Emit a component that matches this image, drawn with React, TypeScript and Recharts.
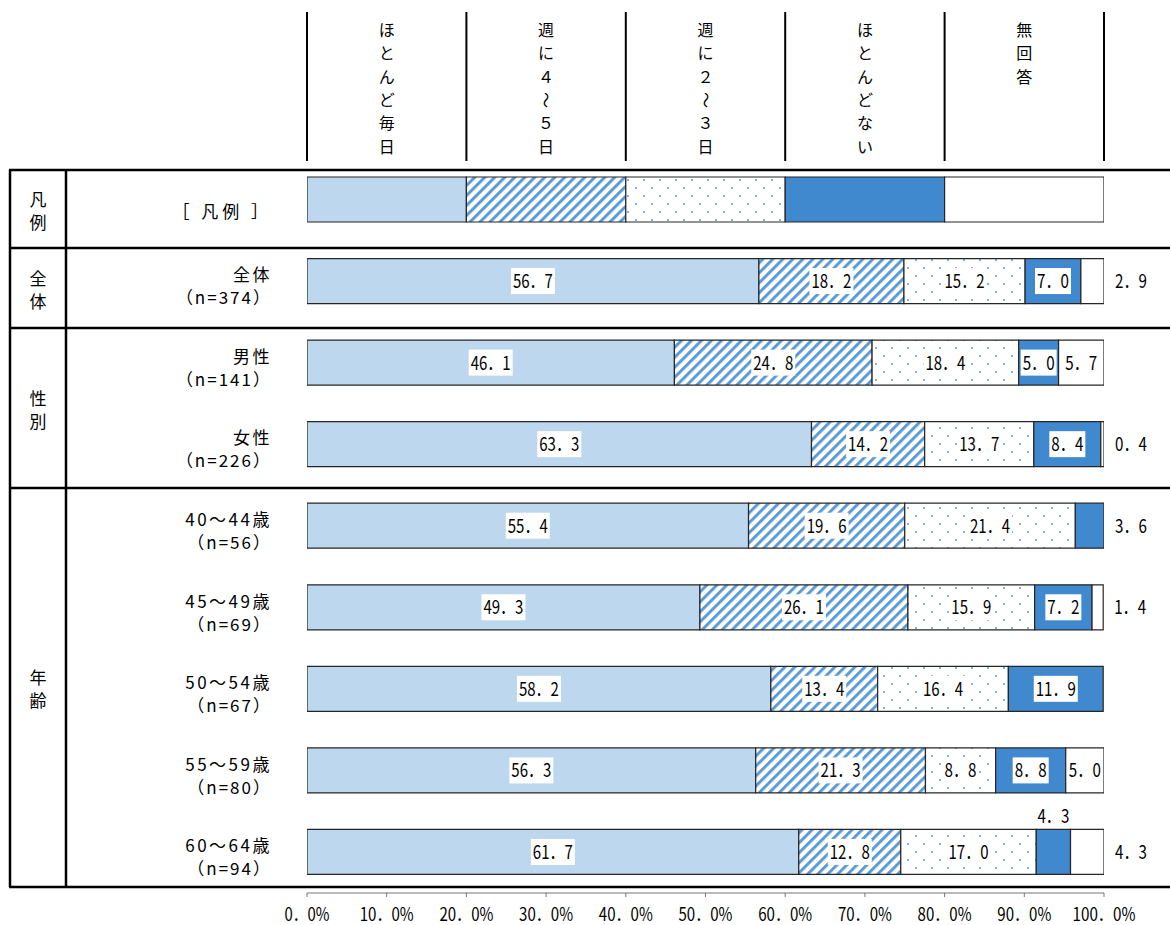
import React from 'react';
import { BarChart, Bar, XAxis, YAxis, LabelList, Customized } from 'recharts';

// ---------- data ----------
const categories = ['［ 凡例 ］', '全体', '男性', '女性', '40～44歳', '45～49歳', '50～54歳', '55～59歳', '60～64歳'];
const sampleSizes = ['', '（n=374）', '（n=141）', '（n=226）', '（n=56）', '（n=69）', '（n=67）', '（n=80）', '（n=94）'];
const seriesNames = ['ほとんど毎日', '週に４～５日', '週に２～３日', 'ほとんどない', '無回答'];
const daily = [20, 56.7, 46.1, 63.3, 55.4, 49.3, 58.2, 56.3, 61.7];
const fourFive = [20, 18.2, 24.8, 14.2, 19.6, 26.1, 13.4, 21.3, 12.8];
const twoThree = [20, 15.2, 18.4, 13.7, 21.4, 15.9, 16.4, 8.8, 17.0];
const rarely = [20, 7.0, 5.0, 8.4, 3.6, 7.2, 11.9, 8.8, 4.3];
const noAnswer = [20, 2.9, 5.7, 0.4, 0, 1.4, 0, 5.0, 4.3];
const groups = [
  { label: '凡例', from: 0, to: 0 },
  { label: '全体', from: 1, to: 1 },
  { label: '性別', from: 2, to: 3 },
  { label: '年齢', from: 4, to: 8 },
];
const xTicks = [0, 10, 20, 30, 40, 50, 60, 70, 80, 90, 100];

const seriesKeys = ['daily', 'fourFive', 'twoThree', 'rarely', 'noAnswer'];
const seriesValues = [daily, fourFive, twoThree, rarely, noAnswer];
const seriesFills = ['#BDD7EE', 'url(#stripes)', 'url(#dots)', '#4189CF', '#FFFFFF'];

const data = categories.map((name, i) => {
  const row: any = { name, n: sampleSizes[i] };
  seriesKeys.forEach((k, s) => (row[k] = seriesValues[s][i]));
  return row;
});

// ---------- layout ----------
const W = 1170;
const H = 925;
const PLOT_LEFT = 307;
const PLOT_RIGHT = 1104;
const PLOT_TOP = 159;
const X_AXIS_H = 32;
const PLOT_BOTTOM = H - X_AXIS_H;
const BAND = (PLOT_BOTTOM - PLOT_TOP) / categories.length;
const LABEL_RIGHT = 272;
const FONT = '"Noto Sans CJK JP", "Noto Sans", sans-serif';
const LINE_Y = [170, 248, 328, 488, 887];

const fmt = (v: number) => v.toFixed(1).replace('.', '．');

const makeLabel = (si: number) => (props: any) => {
  const vb = props.viewBox || props;
  const x = Number(vb.x), y = Number(vb.y), width = Number(vb.width), height = Number(vb.height);
  const index = Math.floor((y + height / 2 - PLOT_TOP) / BAND);
  const value = Number(props.value);
  if (index <= 0 || !value) return null;
  let lastNonZero = 0;
  seriesValues.forEach((s, k) => { if (s[index] > 0) lastNonZero = k; });
  const s = fmt(value);
  const tl = 8 * (s.length + 1);
  let cx: number, cy: number, box = true;
  if (value >= 5) {
    cx = x + width / 2; cy = y + height / 2;
  } else if (si === lastNonZero) {
    cx = x + width + 11 + tl / 2; cy = y + height / 2; box = false;
  } else {
    cx = x + width / 2; cy = y - 13; box = false;
  }
  return (
    <g>
      {box && <rect x={cx - tl / 2 - 2} y={cy - 13} width={tl + 4} height={26} fill="#fff" />}
      <text x={cx} y={cy + 7} textAnchor="middle" fontSize={19} textLength={tl}
        lengthAdjust="spacingAndGlyphs" fontFamily={FONT} fill="#000">{s}</text>
    </g>
  );
};

const CategoryTick = (props: any) => {
  const { y, payload } = props;
  const i = categories.indexOf(payload.value);
  if (i === 0) {
    return (
      <text x={LABEL_RIGHT} y={y + 18} textAnchor="end" fontSize={17} letterSpacing={4}
        fontFamily={FONT} fill="#000" style={{ whiteSpace: 'pre' }}>
        {payload.value}
      </text>
    );
  }
  return (
    <g>
      <text x={LABEL_RIGHT} y={y} textAnchor="end" fontSize={17} letterSpacing={2.5} fontFamily={FONT} fill="#000">
        {payload.value}
      </text>
      <text x={LABEL_RIGHT} y={y + 23} textAnchor="end" fontSize={17} letterSpacing={2} fontFamily={FONT} fill="#000">
        {sampleSizes[i]}
      </text>
    </g>
  );
};

const XTick = (props: any) => {
  const { x, y, payload } = props;
  const s = fmt(Number(payload.value)) + '%';
  const tl = 9 * (s.length + 1);
  return (
    <text x={x} y={y + 18} textAnchor="middle" fontSize={18} textLength={tl}
      lengthAdjust="spacingAndGlyphs" fontFamily={FONT} fill="#000">{s}</text>
  );
};

const TableOverlay = () => {
  const colW = (PLOT_RIGHT - PLOT_LEFT) / seriesNames.length;
  return (
    <g>
      {Array.from({ length: seriesNames.length + 1 }).map((_, k) => (
        <line key={'hv' + k} x1={PLOT_LEFT + colW * k} x2={PLOT_LEFT + colW * k} y1={12} y2={161}
          stroke="#000" strokeWidth={2} />
      ))}
      {seriesNames.map((nm, k) => {
        const cx = PLOT_LEFT + colW * (k + 0.5);
        return Array.from(nm).map((ch, j) => {
          const cy = 30 + j * 23.3;
          const rot = ch === '～';
          return (
            <text key={'h' + k + '_' + j} x={cx} y={cy + 6} textAnchor="middle" fontSize={16}
              fontFamily={FONT} fill="#000" transform={rot ? `rotate(90 ${cx} ${cy})` : undefined}>
              {ch}
            </text>
          );
        });
      })}
      {LINE_Y.map((y, k) => (
        <line key={'tl' + k} x1={9} x2={W} y1={y} y2={y} stroke="#000" strokeWidth={2.5} />
      ))}
      <line x1={10} x2={10} y1={LINE_Y[0]} y2={LINE_Y[LINE_Y.length - 1]} stroke="#000" strokeWidth={2.5} />
      <line x1={66} x2={66} y1={LINE_Y[0]} y2={LINE_Y[LINE_Y.length - 1]} stroke="#000" strokeWidth={2.5} />
      {groups.map((g, k) => {
        const cyc = (LINE_Y[k] + LINE_Y[k + 1]) / 2 + 2;
        return Array.from(g.label).map((ch, j) => (
          <text key={'g' + k + '_' + j} x={38} y={cyc + (j - 0.5) * 23 + 6} textAnchor="middle"
            fontSize={17} fontFamily={FONT} fill="#000">{ch}</text>
        ));
      })}
    </g>
  );
};

export default function App() {
  return (
    <div style={{ position: 'absolute', left: 0, top: 0, width: W, height: H, background: '#fff', fontFamily: FONT }}>
      <BarChart width={W} height={H} data={data} layout="vertical"
        margin={{ top: PLOT_TOP, right: W - PLOT_RIGHT, bottom: 0, left: 0 }}>
        <defs>
          <pattern id="stripes" patternUnits="userSpaceOnUse" width="7.07" height="7.07" patternTransform="rotate(45)">
            <rect width="7.07" height="7.07" fill="#fff" />
            <rect x="0" y="0" width="3" height="7.07" fill="#5B9BD5" />
          </pattern>
          <pattern id="dots" patternUnits="userSpaceOnUse" width="16" height="16">
            <rect width="16" height="16" fill="#fff" />
            <rect x="3" y="3" width="2" height="2" fill="#7FB2E0" />
            <rect x="11" y="11" width="2" height="2" fill="#7FB2E0" />
          </pattern>
        </defs>
        <XAxis type="number" domain={[0, 100]} ticks={xTicks} allowDataOverflow interval={0}
          height={X_AXIS_H} tickSize={4} tickMargin={6}
          axisLine={{ stroke: '#777' }} tickLine={{ stroke: '#777' }} tick={<XTick />} />
        <YAxis type="category" dataKey="name" width={PLOT_LEFT} axisLine={false} tickLine={false}
          interval={0} tick={<CategoryTick />} />
        {seriesKeys.map((k, si) => (
          <Bar key={k} dataKey={k} name={seriesNames[si]} stackId="a" fill={seriesFills[si]}
            stroke="#262626" strokeWidth={1.2} barSize={45} isAnimationActive={false}>
            <LabelList dataKey={k} content={makeLabel(si)} />
          </Bar>
        ))}
        <Customized component={<TableOverlay />} />
      </BarChart>
    </div>
  );
}
